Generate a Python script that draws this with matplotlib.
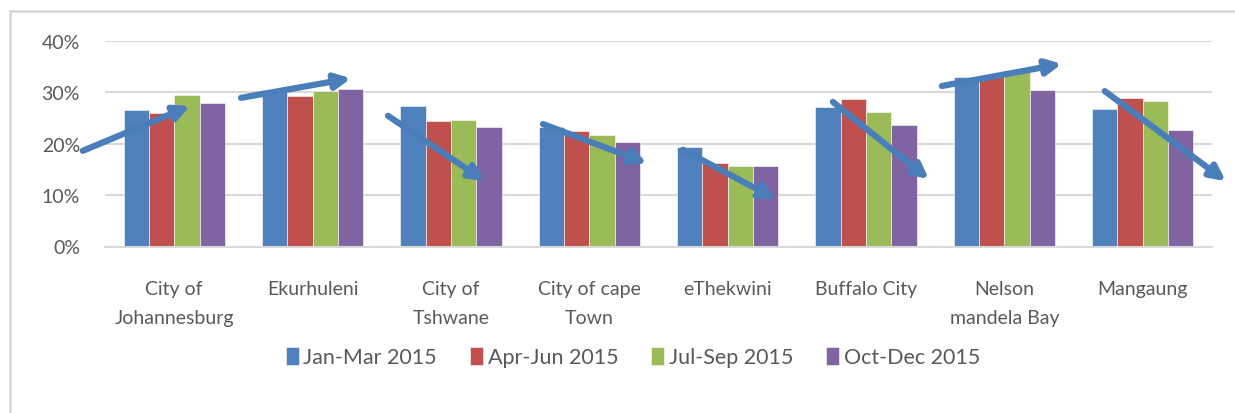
import matplotlib
matplotlib.use("Agg")
import matplotlib.pyplot as plt
import numpy as np
from matplotlib.lines import Line2D
from matplotlib.ticker import PercentFormatter

plt.rcParams['font.family'] = ['Lato', 'DejaVu Sans']

cities = ["City of\nJohannesburg", "Ekurhuleni", "City of\nTshwane", "City of cape\nTown",
          "eThekwini", "Buffalo City", "Nelson\nmandela Bay", "Mangaung"]
quarters = ["Jan-Mar 2015", "Apr-Jun 2015", "Jul-Sep 2015", "Oct-Dec 2015"]
jan_mar = [0.266, 0.305, 0.274, 0.233, 0.194, 0.272, 0.329, 0.268]
apr_jun = [0.260, 0.293, 0.244, 0.225, 0.163, 0.287, 0.331, 0.289]
jul_sep = [0.295, 0.302, 0.246, 0.217, 0.156, 0.262, 0.342, 0.283]
oct_dec = [0.278, 0.307, 0.232, 0.203, 0.157, 0.236, 0.305, 0.227]
series = [jan_mar, apr_jun, jul_sep, oct_dec]
colors = ["#4F81BD", "#C0504D", "#9BBB59", "#8064A2"]

# hand drawn trend arrows: (x0, y0, x1, y1) in data units
arrows = [(-0.66, 0.186, 0.114, 0.273),
          (0.483, 0.289, 1.278, 0.327),
          (1.545, 0.254, 2.246, 0.127),
          (2.665, 0.238, 3.416, 0.162),
          (3.676, 0.188, 4.348, 0.092),
          (4.760, 0.281, 5.454, 0.131),
          (5.548, 0.312, 6.415, 0.355),
          (6.725, 0.302, 7.600, 0.127)]

fig = plt.figure(figsize=(12.35, 4.14), dpi=100)
ax = fig.add_axes([105/1235, 1 - 247.5/414, 1107/1235, 205.8/414])

x = np.arange(len(cities))
w = 0.183
for k, (vals, c, lab) in enumerate(zip(series, colors, quarters)):
    ax.bar(x + (k - 1.5) * w, vals, width=w, color=c, label=lab,
           edgecolor="white", linewidth=0.4, zorder=2)

for x0, y0, x1, y1 in arrows:
    ax.annotate("", xy=(x1, y1), xytext=(x0, y0), xycoords="data",
                annotation_clip=False, zorder=5,
                arrowprops=dict(arrowstyle="-|>,head_length=0.9,head_width=0.45",
                                color="#4A7EBB", lw=4.5, shrinkA=0, shrinkB=0))

ax.set_xlim(-0.5, 7.5)
ax.set_ylim(0, 0.4)
ax.set_yticks([0, 0.1, 0.2, 0.3, 0.4])
ax.yaxis.set_major_formatter(PercentFormatter(1.0, decimals=0))
ax.set_xticks(x)
ax.set_xticklabels(cities, linespacing=1.85)
ax.tick_params(axis="both", length=0, labelsize=14, colors="#595959")
ax.tick_params(axis="y", pad=18)
ax.tick_params(axis="x", pad=24)
for lbl in ax.get_xticklabels():
    lbl.set_verticalalignment("top")
ax.grid(axis="y", color="#D9D9D9", linewidth=1.5, zorder=0)
ax.set_axisbelow(True)
for s in ["top", "right", "left"]:
    ax.spines[s].set_visible(False)
ax.spines["bottom"].set_color("#D9D9D9")
ax.spines["bottom"].set_linewidth(1.5)

fig.legend(loc="center", bbox_to_anchor=(633/1235, 1 - 358/414), ncol=4, frameon=False,
           fontsize=15.5, labelcolor="#595959", handlelength=0.6, handleheight=0.9,
           handletextpad=0.2, columnspacing=1.55)

# chart frame
fig.add_artist(Line2D([10/1235, 1], [1 - 12/414] * 2, color="#D9D9D9", lw=2))
fig.add_artist(Line2D([10/1235] * 2, [0, 1 - 12/414], color="#D9D9D9", lw=2))

fig.savefig("out.png", dpi=100)
